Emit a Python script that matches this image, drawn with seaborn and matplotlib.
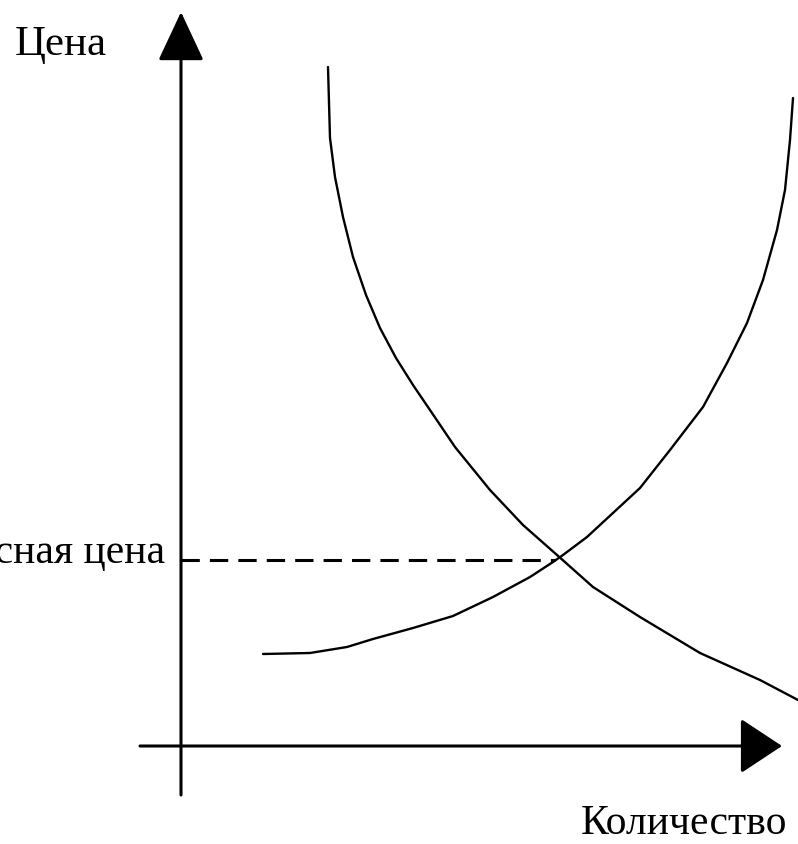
import matplotlib
matplotlib.use('Agg')
import matplotlib.pyplot as plt
import seaborn as sns
import pandas as pd

# Curve points (quantity, price), origin at the axes crossing
demand_q = [147, 149, 154, 162, 172, 185, 199, 215, 232, 251, 274, 309, 342, 376, 412, 459, 519, 579, 617]
demand_p = [679, 608, 569, 529, 489, 451, 418, 388, 361, 333, 299, 256, 221, 191, 159, 129, 93, 66, 46]

supply_q = [82, 129, 166, 192, 232, 272, 312, 349, 372, 382, 406, 459, 489, 522, 546, 566, 582, 596, 604, 609, 612]
supply_p = [92, 93, 99, 107, 118, 130, 149, 169, 184, 191, 209, 258, 296, 339, 383, 423, 466, 516, 556, 606, 648]

equilibrium_price = 186
equilibrium_qty_end = 374

axis_labels = {'y': 'Цена', 'x': 'Количество', 'eq': 'Равновесная цена'}

sns.set_theme(style='white')
plt.rcParams['font.family'] = ['Liberation Serif', 'DejaVu Serif']

demand = pd.DataFrame({'q': demand_q, 'p': demand_p})
supply = pd.DataFrame({'q': supply_q, 'p': supply_p})

fig = plt.figure(figsize=(7.98, 8.44), dpi=100)
ax = fig.add_axes([0, 0, 1, 1])
ax.set_xlim(-181, 617)
ax.set_ylim(-98, 746)
ax.axis('off')

# axes with arrow heads
ax.annotate('', xy=(0, 734), xytext=(0, -49),
            arrowprops=dict(arrowstyle='-|>,head_length=3.1,head_width=1.45', mutation_scale=10,
                            lw=2.2, color='black', shrinkA=0, shrinkB=0))
ax.annotate('', xy=(601, 0), xytext=(-41, 0),
            arrowprops=dict(arrowstyle='-|>,head_length=2.65,head_width=1.75', mutation_scale=10,
                            lw=2.2, color='black', shrinkA=0, shrinkB=0))

# demand and supply curves
sns.lineplot(data=demand, x='q', y='p', sort=False, estimator=None, color='black', lw=1.7, ax=ax)
sns.lineplot(data=supply, x='q', y='p', sort=False, estimator=None, color='black', lw=1.7, ax=ax)

# equilibrium price line
ax.hlines(equilibrium_price, 0, equilibrium_qty_end, colors='black', lw=2.2,
          linestyles=(0, (6, 3.3)))

ax.text(-166, 691, axis_labels['y'], fontsize=31, ha='left', va='baseline', color='black')
ax.text(606, -88, axis_labels['x'], fontsize=30, ha='right', va='baseline', color='black')
ax.text(-16, 183, axis_labels['eq'], fontsize=30, ha='right', va='baseline', color='black')

ax.set_xlabel('')
ax.set_ylabel('')
fig.savefig('out.png', dpi=100, facecolor='white')
